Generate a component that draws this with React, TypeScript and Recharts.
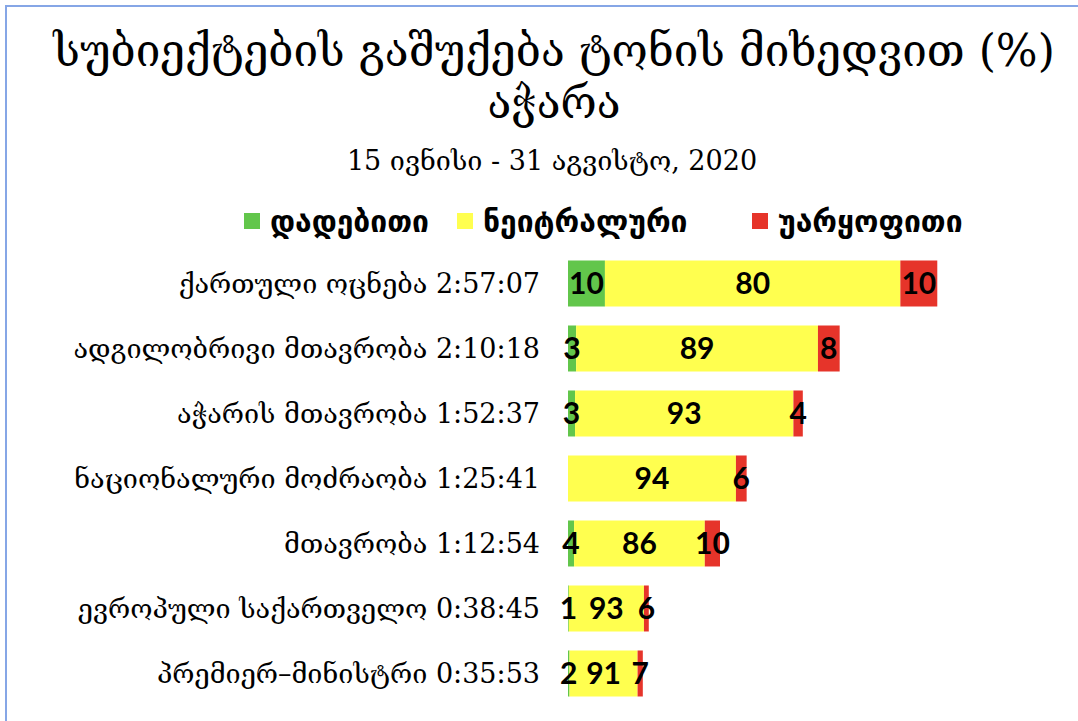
import React from 'react';
import { BarChart, Bar, XAxis, YAxis, LabelList } from 'recharts';

const names = [
  'ქართული ოცნება',
  'ადგილობრივი მთავრობა',
  'აჭარის მთავრობა',
  'ნაციონალური მოძრაობა',
  'მთავრობა',
  'ევროპული საქართველო',
  'პრემიერ–მინისტრი',
];
const durations = ['2:57:07', '2:10:18', '1:52:37', '1:25:41', '1:12:54', '0:38:45', '0:35:53'];
const positive = [10, 3, 3, 0, 4, 1, 2];
const neutral = [80, 89, 93, 94, 86, 93, 91];
const negative = [10, 8, 4, 6, 10, 6, 7];

const seriesNames = ['დადებითი', 'ნეიტრალური', 'უარყოფითი'];
const colors = ['#62c64b', '#ffff4f', '#e6342a'];
const legendLefts = [244, 457, 752];

const toMinutes = (d: string) => {
  const [h, m, s] = d.split(':').map(Number);
  return h * 60 + m + s / 60;
};

const data = names.map((n, i) => {
  const total = toMinutes(durations[i]);
  return {
    label: `${n} ${durations[i]}`,
    pos: (positive[i] * total) / 100,
    neu: (neutral[i] * total) / 100,
    neg: (negative[i] * total) / 100,
    posPct: positive[i],
    neuPct: neutral[i],
    negPct: negative[i],
  };
});

const fmt = (v: any) => (v === 0 ? '' : String(v));

const labelStyle = {
  fontFamily: 'Lato, "Open Sans", sans-serif',
  fontWeight: 700,
  fontSize: 30,
  fill: '#000',
};

const CategoryTick = (props: any) => {
  const { x, y, payload } = props;
  return (
    <text
      x={x}
      y={y}
      dy="0.35em"
      textAnchor="end"
      fontFamily='"DejaVu Serif", serif'
      fontSize={27}
      fill="#000"
    >
      {payload.value}
    </text>
  );
};

export default function App() {
  return (
    <div style={{ position: 'absolute', left: 0, top: 0, width: 1078, height: 721, background: '#fff', overflow: 'hidden' }}>
      <div style={{ position: 'absolute', left: 5, top: 5, right: -10, bottom: -10, borderLeft: '2px solid #86a6e6', borderTop: '2px solid #86a6e6' }} />
      <div style={{ position: 'absolute', left: 28, width: 1052, top: 25, textAlign: 'center', fontFamily: '"DejaVu Serif", serif', fontSize: 44, lineHeight: '52px', color: '#000', whiteSpace: 'nowrap' }}>
        <div>სუბიექტების გაშუქება ტონის მიხედვით (%)</div>
        <div>აჭარა</div>
      </div>
      <div style={{ position: 'absolute', left: 26, width: 1052, top: 145, textAlign: 'center', fontFamily: '"DejaVu Serif", serif', fontSize: 27, color: '#000' }}>
        15 ივნისი - 31 აგვისტო, 2020
      </div>
      {seriesNames.map((s, i) => (
        <div key={s} style={{ position: 'absolute', left: legendLefts[i], top: 203, height: 36, display: 'flex', alignItems: 'center', whiteSpace: 'nowrap' }}>
          <span style={{ width: 16, height: 16, background: colors[i], display: 'inline-block', marginRight: 10 }} />
          <span style={{ fontFamily: '"DejaVu Sans", sans-serif', fontWeight: 700, fontSize: 30, color: '#000' }}>{s}</span>
        </div>
      ))}
      <div style={{ position: 'absolute', left: 0, top: 0 }}>
        <BarChart
          width={1078}
          height={721}
          data={data}
          layout="vertical"
          margin={{ top: 251, right: 93, bottom: 15, left: 0 }}
          barCategoryGap="14.6%"
        >
          <XAxis type="number" domain={[0, 200]} hide />
          <YAxis
            type="category"
            dataKey="label"
            width={568}
            axisLine={false}
            tickLine={false}
            tickSize={0}
            tickMargin={28}
            tick={<CategoryTick />}
            interval={0}
          />
          <Bar dataKey="pos" name={seriesNames[0]} stackId="a" fill={colors[0]} isAnimationActive={false}>
            <LabelList dataKey="posPct" position="center" formatter={fmt} style={labelStyle} />
          </Bar>
          <Bar dataKey="neu" name={seriesNames[1]} stackId="a" fill={colors[1]} isAnimationActive={false}>
            <LabelList dataKey="neuPct" position="center" formatter={fmt} style={labelStyle} />
          </Bar>
          <Bar dataKey="neg" name={seriesNames[2]} stackId="a" fill={colors[2]} isAnimationActive={false}>
            <LabelList dataKey="negPct" position="center" formatter={fmt} style={labelStyle} />
          </Bar>
        </BarChart>
      </div>
    </div>
  );
}
